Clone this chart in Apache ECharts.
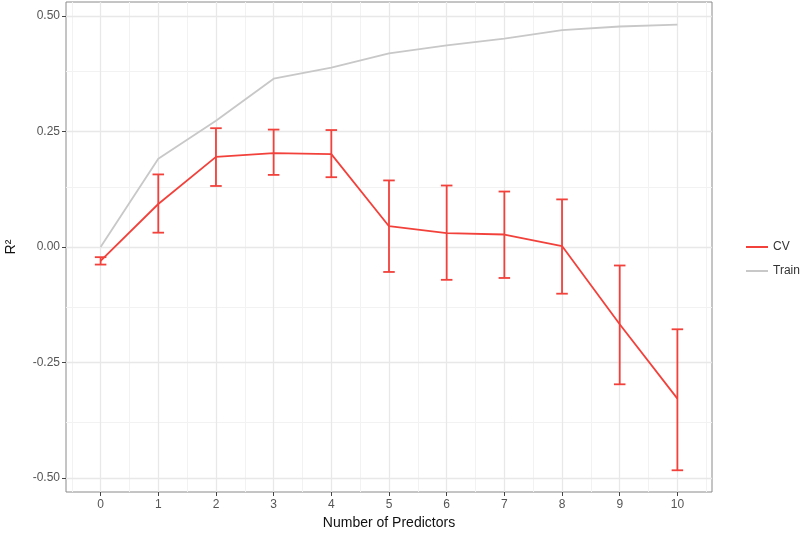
<!DOCTYPE html>
<html>
<head>
<meta charset="utf-8">
<script src="https://cdn.jsdelivr.net/npm/echarts@6/dist/echarts.min.js"></script>
<style>html,body{margin:0;padding:0;background:#fff}#c{width:800px;height:533px}</style>
</head>
<body>
<div id="c"></div>
<script>
const predictors = [0, 1, 2, 3, 4, 5, 6, 7, 8, 9, 10];
const cvMean  = [-0.030, 0.093, 0.195, 0.203, 0.201, 0.045, 0.030, 0.027, 0.002, -0.167, -0.328];
const cvUpper = [-0.022, 0.157, 0.257, 0.254, 0.253, 0.144, 0.133, 0.120, 0.103, -0.040, -0.178];
const cvLower = [-0.038, 0.031, 0.132, 0.156, 0.151, -0.054, -0.071, -0.067, -0.101, -0.297, -0.483];
const train   = [0.000, 0.191, 0.273, 0.364, 0.388, 0.419, 0.436, 0.451, 0.469, 0.477, 0.481];
const xTicks = [0, 1, 2, 3, 4, 5, 6, 7, 8, 9, 10];
const xMinor = [-0.5, 0.5, 1.5, 2.5, 3.5, 4.5, 5.5, 6.5, 7.5, 8.5, 9.5, 10.5];
const yTicks = [-0.5, -0.25, 0, 0.25, 0.5];
const yMinor = [-0.375, -0.125, 0.125, 0.375];

const FONT = '"Liberation Sans", Arial, sans-serif';
const RED = '#f2413b';
const GREY = '#c8c8c8';

const chart = echarts.init(document.getElementById('c'), null, {renderer: 'canvas'});

const gridLines = [];
xMinor.forEach(v => gridLines.push({xAxis: v, lineStyle: {color: '#f2f2f2', width: 1, type: 'solid'}}));
yMinor.forEach(v => gridLines.push({yAxis: v, lineStyle: {color: '#f2f2f2', width: 1, type: 'solid'}}));
xTicks.forEach(v => gridLines.push({xAxis: v, lineStyle: {color: '#e8e8e8', width: 1.3, type: 'solid'}}));
yTicks.forEach(v => gridLines.push({yAxis: v, lineStyle: {color: '#e8e8e8', width: 1.3, type: 'solid'}}));

chart.setOption({
  animation: false,
  backgroundColor: '#fff',
  textStyle: {fontFamily: FONT},
  grid: {left: 66, top: 2, right: 88, bottom: 41, show: true, borderColor: '#8a8a8a', borderWidth: 1,
    backgroundColor: 'transparent', containLabel: false, outerBoundsMode: 'none'},
  legend: {
    orient: 'vertical', left: 741, top: 236, itemGap: 12,
    itemWidth: 22, itemHeight: 2, icon: 'rect',
    textStyle: {fontFamily: FONT, fontSize: 12, color: '#333'},
    data: ['CV', 'Train']
  },
  xAxis: {
    type: 'value', min: -0.6, max: 10.6,
    name: 'Number of Predictors', nameLocation: 'middle', nameGap: 24,
    nameTextStyle: {fontFamily: FONT, fontSize: 14, color: '#111'},
    axisLine: {show: false, onZero: false},
    axisTick: {show: true, length: 4, customValues: xTicks, lineStyle: {color: '#444', width: 1}},
    axisLabel: {customValues: xTicks, margin: 7, fontSize: 12, color: '#555', fontFamily: FONT},
    splitLine: {show: false}
  },
  yAxis: {
    type: 'value', min: -0.53, max: 0.53,
    name: 'R\u00b2', nameLocation: 'middle', nameGap: 48, nameRotate: 90,
    nameTextStyle: {fontFamily: FONT, fontSize: 14, color: '#111'},
    axisLine: {show: false, onZero: false},
    axisTick: {show: true, length: 4, customValues: yTicks, lineStyle: {color: '#444', width: 1}},
    axisLabel: {customValues: yTicks, margin: 6, fontSize: 12, color: '#555', fontFamily: FONT,
      formatter: v => v.toFixed(2)},
    splitLine: {show: false}
  },
  series: [
    {
      type: 'line', name: '_grid', data: [], silent: true, z: 0,
      markLine: {silent: true, z: 0, symbol: ['none', 'none'], label: {show: false}, animation: false,
        lineStyle: {type: 'solid'}, emphasis: {disabled: true}, data: gridLines}
    },
    {
      type: 'line', name: 'Train', z: 2,
      data: predictors.map((p, i) => [p, train[i]]),
      showSymbol: false, symbol: 'none', itemStyle: {color: GREY},
      lineStyle: {color: GREY, width: 1.8}
    },
    {
      type: 'line', name: 'CV', z: 3,
      data: predictors.map((p, i) => [p, cvMean[i]]),
      showSymbol: false, symbol: 'none', itemStyle: {color: RED},
      lineStyle: {color: RED, width: 1.8}
    },
    {
      type: 'custom', name: 'err', z: 4,
      data: predictors.map((p, i) => [p, cvLower[i], cvUpper[i]]),
      renderItem: function (params, api) {
        const x = api.value(0);
        const lo = api.coord([x, api.value(1)]);
        const hi = api.coord([x, api.value(2)]);
        const hw = api.size([0.2, 0])[0] / 2;
        const st = {stroke: RED, lineWidth: 1.8, fill: null};
        return {
          type: 'group',
          children: [
            {type: 'line', shape: {x1: lo[0], y1: lo[1], x2: hi[0], y2: hi[1]}, style: st},
            {type: 'line', shape: {x1: lo[0] - hw, y1: lo[1], x2: lo[0] + hw, y2: lo[1]}, style: st},
            {type: 'line', shape: {x1: hi[0] - hw, y1: hi[1], x2: hi[0] + hw, y2: hi[1]}, style: st}
          ]
        };
      }
    }
  ]
});
</script>
</body>
</html>
